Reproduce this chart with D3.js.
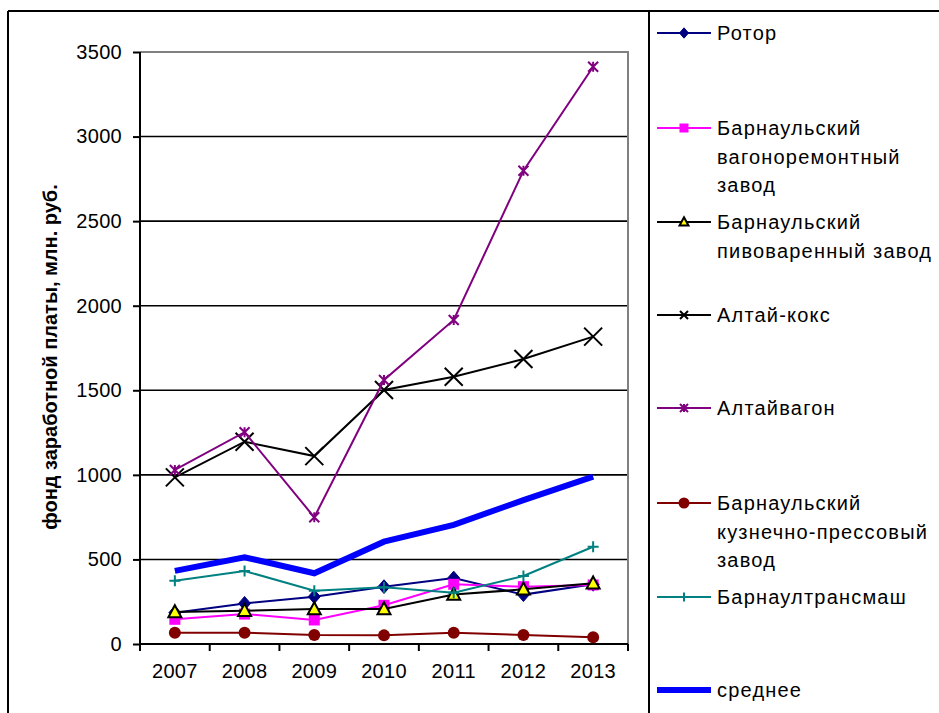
<!DOCTYPE html>
<html>
<head>
<meta charset="utf-8">
<script src="https://cdn.jsdelivr.net/npm/d3@7"></script>
<style>
  html, body { margin: 0; padding: 0; background: #fff; }
  svg { display: block; }
  text { font-family: "Liberation Sans", Arial, sans-serif; fill: #000; }
</style>
</head>
<body>
<svg id="chart" width="939" height="713"></svg>
<script>
// Годы
const years = ["2007", "2008", "2009", "2010", "2011", "2012", "2013"];

// Фонд заработной платы по предприятиям, млн. руб.
const rotor        = [185, 240, 280, 339, 390, 292, 353];
const vagonoremont = [146, 177, 142, 229, 353, 339, 349];
const pivovar      = [189, 197, 207, 207, 292, 323, 359];
const altaiKoks    = [985, 1196, 1111, 1502, 1580, 1685, 1817];
const altaivagon   = [1029, 1252, 749, 1561, 1916, 2798, 3413];
const kuznechno    = [67, 67, 53, 51, 67, 53, 40];
const transmash    = [374, 432, 315, 335, 303, 402, 575];
const srednee      = [432, 513, 418, 605, 704, 851, 989];

// Деления оси значений
const yTicks = [0, 500, 1000, 1500, 2000, 2500, 3000, 3500];

const series = [
  { name: ["Ротор"], values: rotor, color: "#000080", marker: "diamond", width: 2 },
  { name: ["Барнаульский", "вагоноремонтный", "завод"], values: vagonoremont, color: "#FF00FF", marker: "square", width: 2 },
  { name: ["Барнаульский", "пивоваренный завод"], values: pivovar, color: "#000000", marker: "triangle", width: 2 },
  { name: ["Алтай-кокс"], values: altaiKoks, color: "#000000", marker: "x", width: 2 },
  { name: ["Алтайвагон"], values: altaivagon, color: "#800080", marker: "star", width: 2 },
  { name: ["Барнаульский", "кузнечно-прессовый", "завод"], values: kuznechno, color: "#800000", marker: "circle", width: 2 },
  { name: ["Барнаултрансмаш"], values: transmash, color: "#008080", marker: "plus", width: 2 },
  { name: ["среднее"], values: srednee, color: "#0000FF", marker: "none", width: 6 }
];

const svg = d3.select("#chart");

const plot = { left: 140, right: 628, top: 52, bottom: 644 };

const x = d3.scaleBand().domain(years).range([plot.left, plot.right]);
const y = d3.scaleLinear().domain([0, 3500]).range([plot.bottom, plot.top]);

// Внешняя рамка диаграммы и граница легенды
svg.append("line").attr("x1", 8).attr("x2", 939).attr("y1", 11).attr("y2", 11)
  .attr("stroke", "#000").attr("stroke-width", 2);
svg.append("line").attr("x1", 8).attr("x2", 8).attr("y1", 11).attr("y2", 713)
  .attr("stroke", "#000").attr("stroke-width", 2);
svg.append("line").attr("x1", 649).attr("x2", 649).attr("y1", 11).attr("y2", 713)
  .attr("stroke", "#000").attr("stroke-width", 2);

// Горизонтальные линии сетки
svg.append("g")
  .selectAll("line")
  .data(yTicks.filter(d => d > 0 && d < 3500))
  .join("line")
  .attr("x1", plot.left).attr("x2", plot.right)
  .attr("y1", d => y(d)).attr("y2", d => y(d))
  .attr("stroke", "#000").attr("stroke-width", 1.6);

// Граница области построения (сверху и справа)
svg.append("path")
  .attr("d", `M${plot.left},${y(3500)}H${plot.right}V${plot.bottom}`)
  .attr("fill", "none").attr("stroke", "#808080").attr("stroke-width", 2);

// Ось значений
const yAxis = svg.append("g")
  .attr("transform", `translate(${plot.left},0)`)
  .call(d3.axisLeft(y).tickValues(yTicks).tickSize(7).tickPadding(11).tickFormat(d3.format("d")));
yAxis.select(".domain").attr("stroke", "#000").attr("stroke-width", 2).attr("d", `M0,${plot.top}V${plot.bottom}`);
yAxis.selectAll(".tick line").attr("stroke", "#000").attr("stroke-width", 2);
yAxis.selectAll(".tick text")
  .style("font-family", "Liberation Sans, Arial, sans-serif")
  .style("font-size", "20px").style("letter-spacing", "0.3px").attr("fill", "#000");

// Ось категорий: подписи по центру, деления на границах
const xAxis = svg.append("g")
  .attr("transform", `translate(0,${plot.bottom})`)
  .call(d3.axisBottom(x).tickSize(0).tickPadding(20));
xAxis.select(".domain").attr("stroke", "#000").attr("stroke-width", 2)
  .attr("d", `M${plot.left},0H${plot.right}`);
xAxis.selectAll(".tick text")
  .style("font-family", "Liberation Sans, Arial, sans-serif")
  .style("font-size", "20px").style("letter-spacing", "0.3px").attr("fill", "#000");

const edges = years.map(d => x(d)).concat([x(years[years.length - 1]) + x.bandwidth()]);
svg.append("g").selectAll("line").data(edges).join("line")
  .attr("x1", d => d).attr("x2", d => d)
  .attr("y1", plot.bottom).attr("y2", plot.bottom + 7)
  .attr("stroke", "#000").attr("stroke-width", 2);

// Подпись оси значений
svg.append("text")
  .attr("transform", `translate(57,${(plot.top + plot.bottom) / 2 + 9}) rotate(-90)`)
  .attr("text-anchor", "middle")
  .style("font-size", "20px").style("font-weight", "bold")
  .text("фонд заработной платы, млн. руб.");

// Маркеры
function drawMarker(g, type, color, s) {
  const h = s / 2;
  switch (type) {
    case "diamond":
      g.append("path").attr("d", `M0,${-h * 1.15}L${h},0L0,${h * 1.15}L${-h},0Z`)
        .attr("fill", color).attr("stroke", color).attr("stroke-width", 1);
      break;
    case "square":
      g.append("rect").attr("x", -h).attr("y", -h).attr("width", s).attr("height", s)
        .attr("fill", color);
      break;
    case "triangle":
      g.append("path").attr("d", `M0,${-h * 1.05}L${h},${h * 0.8}L${-h},${h * 0.8}Z`)
        .attr("fill", "#FFFF00").attr("stroke", "#000").attr("stroke-width", 2)
        .attr("stroke-linejoin", "miter");
      break;
    case "x":
      g.append("path").attr("d", `M${-h},${-h}L${h},${h}M${-h},${h}L${h},${-h}`)
        .attr("stroke", color).attr("stroke-width", 2);
      break;
    case "star":
      g.append("path").attr("d", `M${-h},${-h}L${h},${h}M${-h},${h}L${h},${-h}M0,${-h}V${h}`)
        .attr("stroke", color).attr("stroke-width", 2);
      break;
    case "circle":
      g.append("circle").attr("r", h).attr("fill", color);
      break;
    case "plus":
      g.append("path").attr("d", `M${-h},0H${h}M0,${-h}V${h}`)
        .attr("stroke", color).attr("stroke-width", 2);
      break;
  }
}

const markerSize = { diamond: 12, square: 11, triangle: 13, x: 18, star: 10, circle: 12, plus: 11, none: 0 };
const legendMarkerSize = { diamond: 9, square: 9, triangle: 9, x: 8, star: 8, circle: 11, plus: 9, none: 0 };

const line = d3.line()
  .x((d, i) => x(years[i]) + x.bandwidth() / 2)
  .y(d => y(d));

const seriesG = svg.append("g");
series.forEach(s => {
  const g = seriesG.append("g");
  g.append("path")
    .datum(s.values)
    .attr("d", line)
    .attr("fill", "none")
    .attr("stroke", s.color)
    .attr("stroke-width", s.width)
    .attr("stroke-linejoin", "miter");
  if (s.marker !== "none") {
    g.selectAll("g.pt").data(s.values).join("g")
      .attr("class", "pt")
      .attr("transform", (d, i) => `translate(${x(years[i]) + x.bandwidth() / 2},${y(d)})`)
      .each(function () { drawMarker(d3.select(this), s.marker, s.color, markerSize[s.marker]); });
  }
});

// Легенда
const legendRows = [33, 128, 222, 315, 408, 503, 597, 690];
const legend = svg.append("g");
series.forEach((s, i) => {
  const g = legend.append("g").attr("transform", `translate(0,${legendRows[i]})`);
  g.append("line").attr("x1", 657).attr("x2", 711).attr("y1", 0).attr("y2", 0)
    .attr("stroke", s.color).attr("stroke-width", s.width);
  if (s.marker !== "none") {
    const m = g.append("g").attr("transform", "translate(684,0)");
    drawMarker(m, s.marker, s.color, legendMarkerSize[s.marker]);
  }
  const t = g.append("text")
    .attr("x", 717)
    .style("font-size", "20px")
    .style("letter-spacing", "1.2px");
  s.name.forEach((ln, j) => {
    t.append("tspan").attr("x", 717).attr("y", j * 28.5).attr("dy", "0.35em").text(ln);
  });
});
</script>
</body>
</html>
